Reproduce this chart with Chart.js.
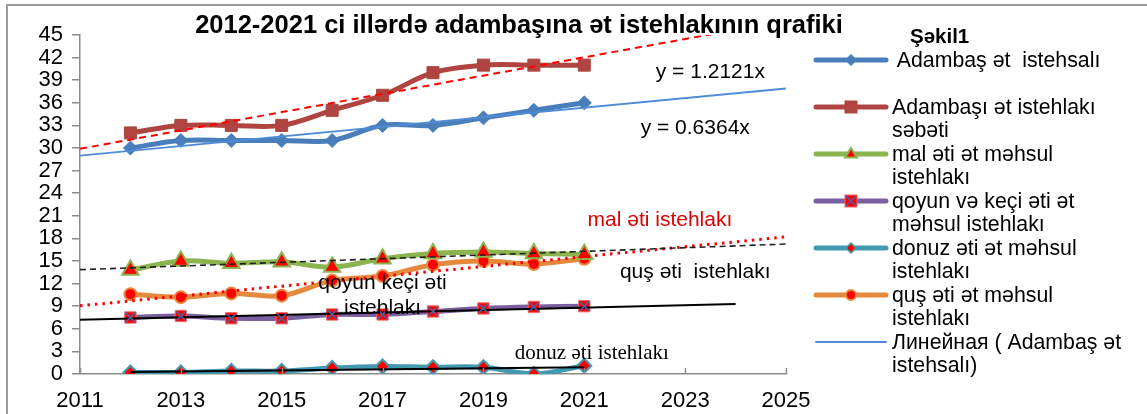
<!DOCTYPE html>
<html><head><meta charset="utf-8">
<script src="https://cdn.jsdelivr.net/npm/chart.js@4.4.1/dist/chart.umd.min.js"></script>
<style>
html,body{margin:0;padding:0;background:#fff;}
body{width:1147px;height:414px;position:relative;overflow:hidden;font-family:"Liberation Sans",Arial,sans-serif;color:#000;}
#frame{position:absolute;left:6px;top:4px;width:1200px;height:500px;border:2px solid #9a9a9a;box-sizing:border-box;}
#wrap{position:absolute;left:0;top:0;width:830px;height:414px;}
#title{position:absolute;left:0;width:1038px;top:8px;text-align:center;font-weight:bold;font-size:25.5px;line-height:32px;white-space:nowrap;}
#legTitle{position:absolute;left:910px;top:24px;font-weight:bold;font-size:20.5px;line-height:23px;}
.lg{position:absolute;left:892px;font-size:21.3px;line-height:23.3px;white-space:pre;}
.sw{position:absolute;left:808px;width:86px;height:24px;}
</style></head>
<body>
<div id="frame"></div>
<div id="wrap"><canvas id="c" width="830" height="414"></canvas></div>
<div id="title">2012-2021 ci illərdə adambaşına ət istehlakının qrafiki</div>
<div id="legTitle">Şəkil1</div>
<div id="legend"></div>
<script>
// ---- data ----
const years = [2012, 2013, 2014, 2015, 2016, 2017, 2018, 2019, 2020, 2021];
const adambasIstehsal = [30, 31, 31, 31, 31, 33, 33, 34, 35, 36];
const istehlakSebeti = [32, 33, 33, 33, 35, 37, 40, 41, 41, 41];
const malEti = [13.8, 15.0, 14.7, 14.9, 14.2, 15.3, 16.0, 16.2, 16.0, 15.9];
const qoyunEti = [7.5, 7.7, 7.4, 7.4, 7.9, 7.9, 8.3, 8.7, 8.9, 9.0];
const donuzEti = [0.2, 0.2, 0.4, 0.4, 0.8, 1.0, 0.9, 0.9, 0.0, 1.1];
const qusEti = [10.6, 10.2, 10.7, 10.4, 12.4, 13.0, 14.5, 15.0, 14.6, 15.3];

// trend lines (endpoints)
const trendIstehsalX = [2011, 2025], trendIstehsalY = [29.0, 37.9];
const trendSebetX = [2011, 2025], trendSebetY = [29.9, 46.9];
const trendMalX = [2011, 2025], trendMalY = [13.85, 17.25];
const trendQusX = [2011, 2025], trendQusY = [9.05, 18.2];
const trendQoyunX = [2011, 2024], trendQoyunY = [7.2, 9.3];
const trendDonuzX = [2012, 2021], trendDonuzY = [0.25, 0.9];

const xTicks = [2011, 2013, 2015, 2017, 2019, 2021, 2023, 2025];
const yTicks = [0, 3, 6, 9, 12, 15, 18, 21, 24, 27, 30, 33, 36, 39, 42, 45];

const legendLabels = [
  ' Adambaş ət  istehsalı',
  'Adambaşı ət istehlakı\nsəbəti',
  'mal əti ət məhsul\nistehlakı',
  'qoyun və keçi əti ət\nməhsul istehlakı',
  'donuz əti ət məhsul\nistehlakı',
  'quş əti ət məhsul\nistehlakı',
  'Линейная ( Adambaş ət\nistehsalı)'
];

const annotations = [
  {lines: ['y = 1.2121x'], x: 2023.5, y: [40.0], color: '#000', font: '21px "Liberation Sans", Arial'},
  {lines: ['y = 0.6364x'], x: 2023.2, y: [32.6], color: '#000', font: '21px "Liberation Sans", Arial'},
  {lines: ['mal əti istehlakı'], x: 2022.5, y: [20.4], color: '#E00000', font: '21px "Liberation Sans", Arial'},
  {lines: ['quş əti  istehlakı'], x: 2023.2, y: [13.55], color: '#000', font: '21px "Liberation Sans", Arial'},
  {lines: ['qoyun keçi əti', 'istehlakı'], x: 2017.0, y: [12.1, 8.8], color: '#000', font: '21px "Liberation Sans", Arial'},
  {lines: ['donuz əti istehlakı'], x: 2021.15, y: [2.7], color: '#000', font: '21px "Liberation Serif", "Times New Roman", serif'}
];

// ---- colours ----
const C = {
  blue: '#4A7EBB', red: '#AF4440', green: '#8CB44F', purple: '#7B5FA0',
  teal: '#4299B2', orange: '#E6893D', trendBlue: '#4F8BD6', mark: '#FF0000'
};

const pts = (xs, ys) => xs.map((x, i) => ({x: x, y: ys[i]}));
const series = (label, ys, color, extra) => Object.assign({
  label: label, data: pts(years, ys), borderColor: color, backgroundColor: color,
  borderWidth: 5, tension: 0.35, borderCapStyle: 'round', borderJoinStyle: 'round',
  pointRadius: 6, pointBorderWidth: 2, pointHoverRadius: 6, order: 3
}, extra);
const trend = (xs, ys, color, width, dash) => ({
  label: 'trend', data: pts(xs, ys), borderColor: color, borderWidth: width,
  borderDash: dash, pointRadius: 0, tension: 0, order: 1, fill: false
});

const datasets = [
  series(legendLabels[0], adambasIstehsal, C.blue, {pointStyle: 'rectRot', pointRadius: 7, pointBorderWidth: 1}),
  series(legendLabels[1], istehlakSebeti, C.red, {pointStyle: 'rect', pointRadius: 8.5, pointBorderWidth: 1}),
  series(legendLabels[2], malEti, C.green, {pointStyle: 'triangle', pointRadius: 9.5, backgroundColor: C.mark, pointBorderWidth: 2}),
  series(legendLabels[3], qoyunEti, C.purple, {pointStyle: 'rect', pointRadius: 8, backgroundColor: C.mark, pointBorderColor: '#F26B6B', pointBorderWidth: 1}),
  series(legendLabels[4], donuzEti, C.teal, {pointStyle: 'rectRot', pointRadius: 7, backgroundColor: C.mark, pointBorderWidth: 2}),
  series(legendLabels[5], qusEti, C.orange, {pointStyle: 'circle', pointRadius: 6, backgroundColor: C.mark, pointBorderWidth: 2}),
  // blue X on qoyun markers
  {label: 'x', data: pts(years, qoyunEti), showLine: false, pointStyle: 'crossRot', pointRadius: 6.5,
   pointBorderWidth: 1.5, borderColor: '#4A62A8', backgroundColor: '#4A62A8', order: 0},
  trend(trendIstehsalX, trendIstehsalY, C.trendBlue, 1.8, []),
  trend(trendSebetX, trendSebetY, '#FF0000', 2, [7, 5]),
  trend(trendMalX, trendMalY, '#222', 1.6, [6, 4]),
  trend(trendQusX, trendQusY, '#FF0000', 3, [2.5, 5]),
  trend(trendQoyunX, trendQoyunY, '#000', 2, []),
  trend(trendDonuzX, trendDonuzY, '#000', 2, [])
];

const annotationPlugin = {
  id: 'annot',
  afterDatasetsDraw(chart) {
    const {ctx, scales: {x, y}} = chart;
    ctx.save();
    ctx.textAlign = 'center';
    ctx.textBaseline = 'middle';
    annotations.forEach(a => {
      ctx.font = a.font;
      ctx.fillStyle = a.color;
      a.lines.forEach((t, i) => ctx.fillText(t, x.getPixelForValue(a.x), y.getPixelForValue(a.y[i])));
    });
    ctx.restore();
  }
};
const innerTicks = {
  id: 'innerTicks',
  afterDraw(chart) {
    const {ctx, scales: {x}} = chart;
    ctx.save();
    ctx.strokeStyle = '#8c8c8c';
    ctx.lineWidth = 1.5;
    x.ticks.forEach(t => {
      const px = Math.round(x.getPixelForValue(t.value)) + 0.5;
      ctx.beginPath();
      ctx.moveTo(px, x.top);
      ctx.lineTo(px, x.top - 6);
      ctx.stroke();
    });
    ctx.restore();
  }
};

new Chart(document.getElementById('c'), {
  type: 'line',
  data: {datasets: datasets},
  options: {
    responsive: false, animation: false, events: [],
    layout: {padding: {top: 35, left: 0, right: 44, bottom: 0}},
    plugins: {legend: {display: false}, tooltip: {enabled: false}, title: {display: false}},
    scales: {
      x: {
        type: 'linear', min: 2011, max: 2025,
        afterBuildTicks: s => { s.ticks = xTicks.map(v => ({value: v})); },
        afterFit: s => { s.height = 40; },
        ticks: {callback: v => String(v), color: '#000', font: {size: 22, family: '"Liberation Sans", Arial'}, padding: 14, maxRotation: 0, autoSkip: false},
        grid: {display: true, drawOnChartArea: false, drawTicks: false, color: '#8c8c8c'},
        border: {display: true, color: '#8c8c8c', width: 1.5}
      },
      y: {
        type: 'linear', min: 0, max: 45,
        afterBuildTicks: s => { s.ticks = yTicks.map(v => ({value: v})); },
        afterFit: s => { s.width = 80; },
        ticks: {callback: v => String(v), color: '#000', font: {size: 22, family: '"Liberation Sans", Arial'}, padding: 9, autoSkip: false},
        grid: {display: true, drawOnChartArea: false, drawTicks: true, tickLength: 8, color: '#8c8c8c', lineWidth: 1.5},
        border: {display: true, color: '#8c8c8c', width: 1.5}
      }
    }
  },
  plugins: [annotationPlugin, innerTicks]
});

// ---- HTML legend ----
const legendStyles = [
  {line: C.blue, w: 5, marker: 'diamond', fill: C.blue, stroke: C.blue, r: 5},
  {line: C.red, w: 5, marker: 'square', fill: C.red, stroke: C.red, r: 6},
  {line: C.green, w: 5, marker: 'triangle', fill: C.mark, stroke: C.green, r: 6},
  {line: C.purple, w: 5, marker: 'squarex', fill: C.mark, stroke: '#F26B6B', r: 6},
  {line: C.teal, w: 5, marker: 'diamond', fill: C.mark, stroke: C.teal, r: 5},
  {line: C.orange, w: 5, marker: 'circle', fill: C.mark, stroke: C.orange, r: 5},
  {line: C.trendBlue, w: 2, marker: null}
];
const firstCenter = 60, step = 47;
const leg = document.getElementById('legend');
legendLabels.forEach((lab, i) => {
  const cy = firstCenter + step * i;
  const st = legendStyles[i];
  const mx = 43, my = 12;
  let m = '';
  if (st.marker === 'diamond') m = `<polygon points="${mx},${my - st.r} ${mx + st.r},${my} ${mx},${my + st.r} ${mx - st.r},${my}" fill="${st.fill}" stroke="${st.stroke}" stroke-width="1.5"/>`;
  if (st.marker === 'square') m = `<rect x="${mx - st.r}" y="${my - st.r}" width="${2 * st.r}" height="${2 * st.r}" fill="${st.fill}" stroke="${st.stroke}"/>`;
  if (st.marker === 'triangle') m = `<polygon points="${mx},${my - st.r} ${mx + st.r},${my + st.r * 0.6} ${mx - st.r},${my + st.r * 0.6}" fill="${st.fill}" stroke="${st.stroke}" stroke-width="2"/>`;
  if (st.marker === 'squarex') m = `<rect x="${mx - st.r}" y="${my - st.r}" width="${2 * st.r}" height="${2 * st.r}" fill="${st.fill}" stroke="${st.stroke}"/><path d="M${mx - 5},${my - 5}L${mx + 5},${my + 5}M${mx + 5},${my - 5}L${mx - 5},${my + 5}" stroke="#4A62A8" stroke-width="1.5"/>`;
  if (st.marker === 'circle') m = `<circle cx="${mx}" cy="${my}" r="${st.r}" fill="${st.fill}" stroke="${st.stroke}" stroke-width="2"/>`;
  const sw = document.createElement('div');
  sw.className = 'sw';
  sw.style.top = (cy - 12) + 'px';
  sw.innerHTML = `<svg width="86" height="24"><line x1="8" y1="12" x2="78" y2="12" stroke="${st.line}" stroke-width="${st.w}" stroke-linecap="round"/>${m}</svg>`;
  leg.appendChild(sw);
  const t = document.createElement('div');
  t.className = 'lg';
  t.style.top = (cy - 11.4) + 'px';
  t.textContent = lab;
  leg.appendChild(t);
});
</script>
</body></html>
